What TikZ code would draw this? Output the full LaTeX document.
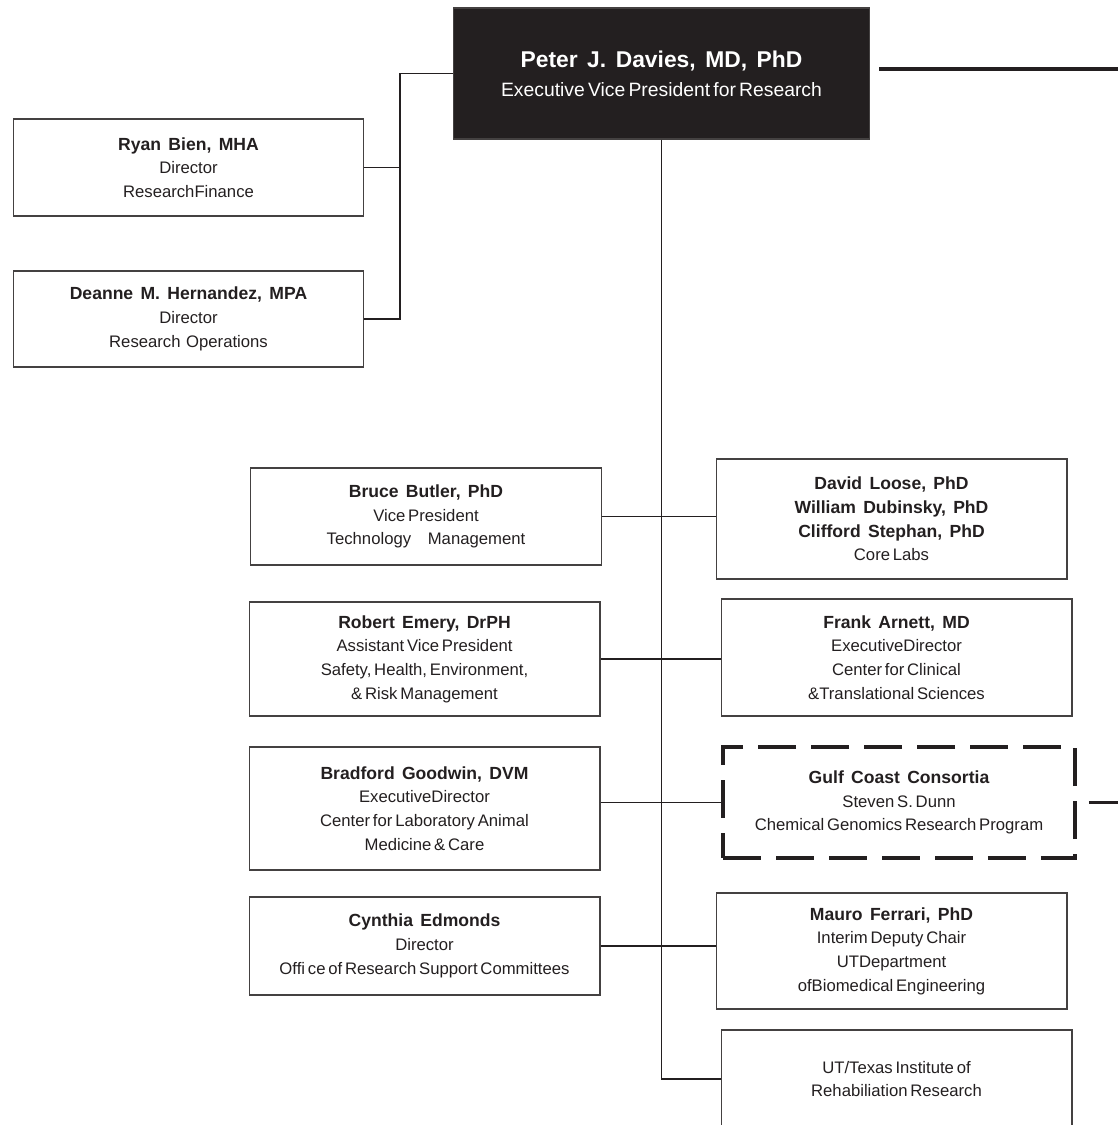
\documentclass[tikz,border=0pt]{standalone}
\usepackage{fontspec}
\setmainfont{Liberation Sans}[WordSpace=0.6,BoldFeatures={WordSpace=1.5}]
\definecolor{ink}{RGB}{35,31,32}
\newcommand{\pname}[1]{{\fontsize{10}{13.5}\selectfont\bfseries #1}}
\begin{document}
\begin{tikzpicture}[x=0.02cm,y=-0.02cm,
  box/.style={draw=ink!85,line width=0.6pt,align=center,minimum width=7.02cm,inner sep=0pt,
    font=\fontsize{9.5}{13.5}\selectfont,text=ink},
  link/.style={draw=ink,line width=0.6pt},
  heavy/.style={draw=ink,line width=1.8pt}]
\useasboundingbox (0,0) rectangle (1118,1125);
\coordinate (bus) at (400,0);
\coordinate (edge) at (1118,0);
\node[box,fill=ink,text=white,minimum width=8.34cm,minimum height=2.62cm,font=\fontsize{11}{16.5}\selectfont] (vp) at (661.5,73.5)
  {{\fontsize{13}{16.5}\selectfont\bfseries Peter J. Davies, MD, PhD}\\Executive Vice President for Research};
\node[box,minimum height=1.94cm] (ryan) at (188.5,167.5) {\pname{Ryan Bien, MHA}\\Director\\ResearchFinance};
\node[box,minimum height=1.92cm] (deanne) at (188.5,319) {\pname{Deanne M. Hernandez, MPA}\\Director\\Research\ \ Operations};
\node[box,minimum height=1.94cm] (bruce) at (426,516.5) {\pname{Bruce Butler, PhD}\\Vice President\\Technology\quad Management};
\node[box,minimum height=2.28cm] (robert) at (424.5,659) {\pname{Robert Emery, DrPH}\\Assistant Vice President\\Safety, Health, Environment,\\\& Risk Management};
\node[box,minimum height=2.46cm] (bradford) at (424.5,808.5) {\pname{Bradford Goodwin, DVM}\\ExecutiveDirector\\Center for Laboratory Animal\\Medicine \& Care};
\node[box,minimum height=1.96cm] (cynthia) at (424.5,946) {\pname{Cynthia Edmonds}\\Director\\Offi ce of Research Support Committees};
\node[box,minimum height=2.4cm] (david) at (891.5,519) {\pname{David Loose, PhD}\\\pname{William Dubinsky, PhD}\\\pname{Clifford Stephan, PhD}\\Core Labs};
\node[box,minimum height=2.34cm] (frank) at (896.5,657.5) {\pname{Frank Arnett, MD}\\ExecutiveDirector\\Center for Clinical\\\&Translational Sciences};
\node[box,draw=ink,line width=2.2pt,dash pattern=on 0.76cm off 0.3cm,minimum width=7.04cm,minimum height=2.22cm] (gulf) at (899,802.5)
  {\pname{Gulf Coast Consortia}\\Steven S. Dunn\\Chemical Genomics Research Program};
\node[box,minimum height=2.32cm] (mauro) at (891.5,951) {\pname{Mauro Ferrari, PhD}\\Interim Deputy Chair\\UTDepartment\\ofBiomedical Engineering};
\node[box,minimum height=1.96cm] (ut) at (896.5,1079) {UT/Texas Institute of\\Rehabiliation Research};
% connectors
\draw[link] (vp.west) -- (vp.west -| bus) -- (bus |- deanne.east) -- (deanne.east);
\draw[link] (ryan.east) -- (ryan.east -| bus);
\draw[link] (vp.south) -- (vp.south |- ut.west) -- (ut.west);
\draw[link] (bruce.east) -- (bruce.east -| david.west);
\draw[link] (robert.east) -- (robert.east -| frank.west);
\draw[link] (gulf.west) -- (gulf.west -| bradford.east);
\draw[link] (cynthia.east) -- (cynthia.east -| mauro.west);
\coordinate (vpout) at ([shift={(9,-4.5)}]vp.east);
\draw[heavy] (vpout) -- (vpout -| edge);
\draw[heavy] ([xshift=0.24cm]gulf.east) -- (gulf.east -| edge);
\end{tikzpicture}
\end{document}
